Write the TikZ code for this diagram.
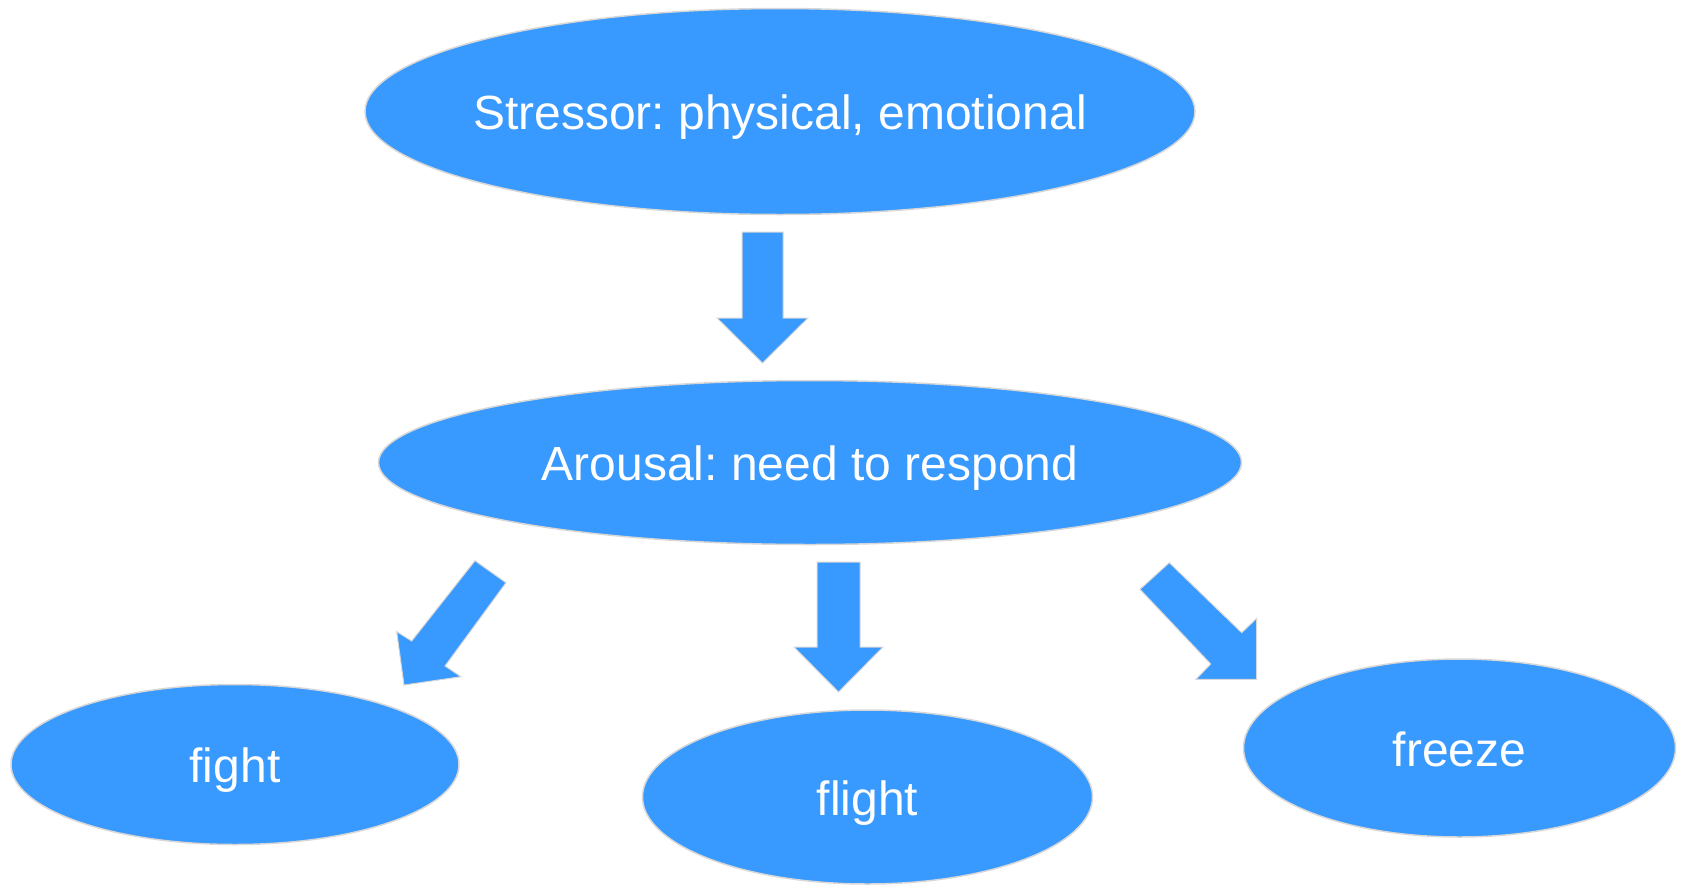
\documentclass[tikz,border=0pt]{standalone}
\usepackage{fontspec}
\setmainfont{Liberation Sans}
\frenchspacing
\usetikzlibrary{shapes.geometric}
\definecolor{bub}{RGB}{56,153,255}
\definecolor{rim}{RGB}{215,215,215}
\begin{document}
\begin{tikzpicture}[x=1pt,y=-1pt,
  bubble/.style={ellipse, fill=bub, draw=rim, line width=1.5pt, inner sep=0pt},
  lbl/.style={text=white, inner sep=0pt, anchor=base, yshift=-18pt, font=\fontsize{48}{58}\selectfont},
  blockarrow/.style={fill=bub, draw=rim, line width=1pt, line join=miter}]
\useasboundingbox (0,0) rectangle (1681,884);
% ellipses
\node[bubble, minimum width=830, minimum height=206] (stressor) at (780,111.5) {};
\node[bubble, minimum width=863, minimum height=164] (arousal) at (810,462.5) {};
\node[bubble, minimum width=448, minimum height=160] (fight) at (235,764.5) {};
\node[bubble, minimum width=450, minimum height=174] (flight) at (867.5,797) {};
\node[bubble, minimum width=432, minimum height=178] (freeze) at (1459.5,748) {};
% labels
\node[lbl] (stressorT) at (stressor.center) {Stressor: physical, emotional};
\node[lbl] (arousalT) at (arousal.center) {Arousal: need to respond};
\node[lbl] (fightT) at (fight.center) {fight};
\node[lbl] (flightT) at (flight.center) {flight};
\node[lbl] (freezeT) at (freeze.center) {freeze};
% block arrows
\draw[blockarrow] (742,232) -- (783,232) -- (783,318) -- (808,318) -- (762.5,363) -- (717,318) -- (742,318) -- cycle;
\draw[blockarrow] (817,562) -- (860,562) -- (860,647) -- (883,647) -- (838.5,692) -- (794,647) -- (817,647) -- cycle;
\draw[blockarrow] (475,560.7) -- (506,582.7) -- (445,666) -- (461,676.7) -- (404,685) -- (396.7,631.7) -- (411.7,641) -- cycle;
\draw[blockarrow] (1140,589.3) -- (1169.3,562.7) -- (1241.7,632.7) -- (1256.7,618.3) -- (1256.7,679.3) -- (1196,679.3) -- (1210.7,664) -- cycle;
\end{tikzpicture}
\end{document}
